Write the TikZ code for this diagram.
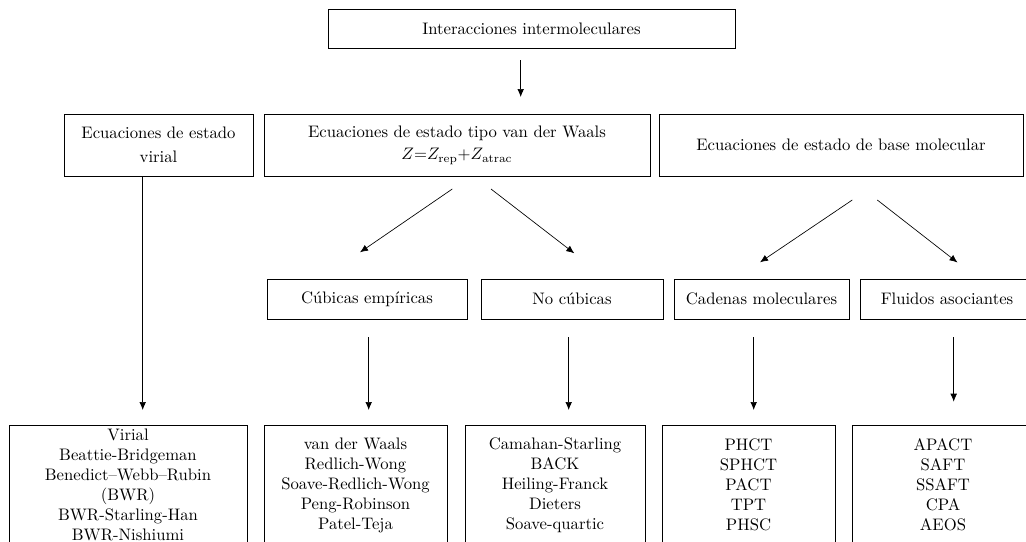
\documentclass[tikz,border=0pt]{standalone}
\usepackage{amsmath, amssymb}
\usepackage{xcolor}
\usepackage{tikz}
\usetikzlibrary{arrows.meta}

\begin{document}
\begin{tikzpicture}[>={Latex[length=4.8pt,width=4pt]}, x=0.6pt, y=-0.6pt,
    caja/.style={draw, thin, rectangle, inner sep=2pt, align=center},
    lista/.style={caja, minimum height=72pt}]
    \useasboundingbox (0,0) rectangle (1026,542);
    \clip (0,0) rectangle (1026,542);

    % 1. Caja superior
    \node[caja, minimum width=244.2pt, minimum height=23.4pt] (inter) at (531.5,28.5) {Interacciones intermoleculares};

    % 2. Tipos de ecuaciones de estado
    \node[caja, minimum width=113.4pt, minimum height=37.2pt] (virial) at (158.5,145) {Ecuaciones de estado\\[2.5pt] virial};
    \node[caja, minimum width=231.6pt, minimum height=37.2pt] (vdw) at (457,145) {Ecuaciones de estado tipo van der Waals\\[1.5pt] $Z$=$Z_{\mathrm{rep}}$+$Z_{\mathrm{atrac}}$};
    \node[caja, minimum width=218.4pt, minimum height=37.2pt] (base) at (841,145) {Ecuaciones de estado de base molecular};

    % 3. Subgrupos
    \node[caja, minimum width=120pt, minimum height=24pt] (cub) at (367,299) {C\'ubicas emp\'iricas};
    \node[caja, minimum width=109.2pt, minimum height=24pt] (nocub) at (572,299) {No c\'ubicas};
    \node[caja, minimum width=105pt, minimum height=24pt] (cad) at (761.5,299) {Cadenas moleculares};
    \node[caja, minimum width=104.4pt, minimum height=24pt] (flu) at (947,299) {Fluidos asociantes};

    % 4. Listas de ecuaciones
    \node[lista, minimum width=142.8pt] (lvirial) at (128,485) {Virial\\ Beattie-Bridgeman\\ Benedict--Webb--Rubin\\ (BWR)\\ BWR-Starling-Han\\ BWR-Nishiumi};
    \node[lista, minimum width=109.8pt] (lcub) at (355.5,485) {van der Waals\\ Redlich-Wong\\ Soave-Redlich-Wong\\ Peng-Robinson\\ Patel-Teja};
    \node[lista, minimum width=108pt] (lnocub) at (555,485) {Camahan-Starling\\ BACK\\ Heiling-Franck\\ Dieters\\ Soave-quartic};
    \node[lista, minimum width=103.8pt] (lcad) at (748.5,485) {PHCT\\ SPHCT\\ PACT\\ TPT\\ PHSC};
    \node[lista, minimum width=109.2pt] (lflu) at (943,485) {APACT\\ SAFT\\ SSAFT\\ CPA\\ AEOS};

    % 5. Flechas
    \coordinate (a0) at (520.7,60);
    \coordinate (b0) at (520.7,97);
    \draw[->] (a0) -- (b0);

    \coordinate (v1) at (142.7,410);
    \draw[->] (v1 |- virial.south) -- (v1);

    \coordinate (a1) at (452.3,189);
    \coordinate (b1) at (360,252.3);
    \coordinate (a2) at (491,189);
    \coordinate (b2) at (574.3,253.3);
    \draw[->] (a1) -- (b1);
    \draw[->] (a2) -- (b2);

    \coordinate (a3) at (852.3,200);
    \coordinate (b3) at (760,262.3);
    \coordinate (a4) at (877.3,200);
    \coordinate (b4) at (957.5,262.5);
    \draw[->] (a3) -- (b3);
    \draw[->] (a4) -- (b4);

    \coordinate (c1) at (368.7,410);
    \coordinate (c2) at (568.7,410);
    \coordinate (c3) at (753.7,410);
    \coordinate (c4) at (953.7,401.7);
    \draw[->] (c1 |- cub.south) ++(0,18) -- (c1);
    \draw[->] (c2 |- nocub.south) ++(0,18) -- (c2);
    \draw[->] (c3 |- cad.south) ++(0,18) -- (c3);
    \draw[->] (c4 |- flu.south) ++(0,18) -- (c4);
\end{tikzpicture}
\end{document}
